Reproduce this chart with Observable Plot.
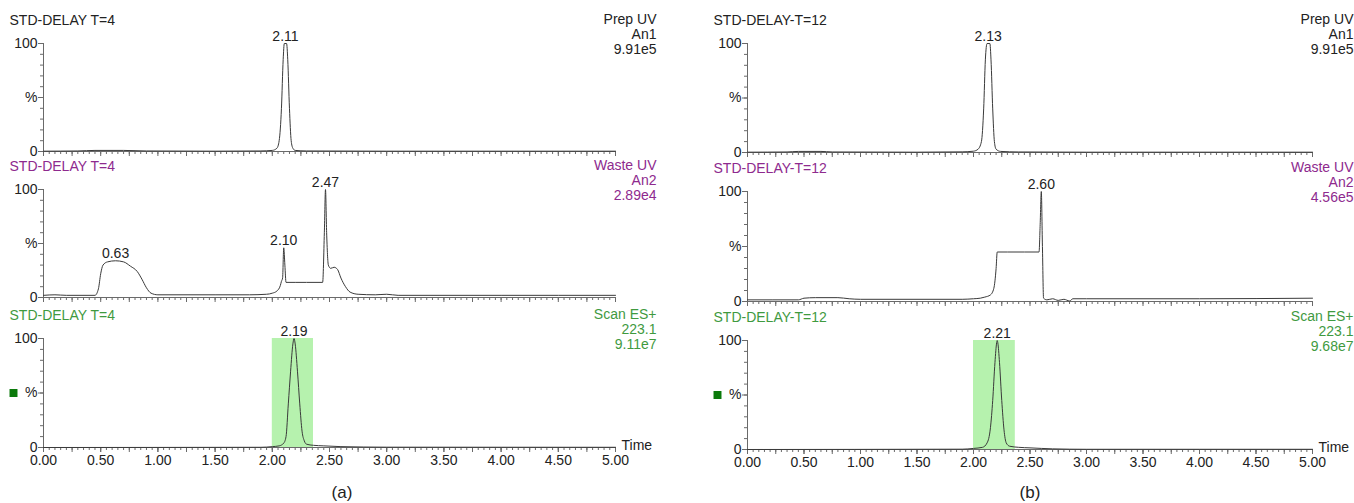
<!DOCTYPE html>
<html>
<head>
<meta charset="utf-8">
<script src="https://cdn.jsdelivr.net/npm/d3@7"></script>
<script src="https://cdn.jsdelivr.net/npm/@observablehq/plot@0.6"></script>
<style>
  html, body { margin: 0; padding: 0; background: #fff; }
  #wrap { position: relative; width: 1354px; height: 503px; overflow: hidden; font-family: "Liberation Sans", Arial, sans-serif; }
  #wrap > svg { position: absolute; }
  .cap { position: absolute; font-size: 17px; color: #222; transform: translate(-50%, -50%); }
</style>
</head>
<body>
<div id="wrap"></div>
<script>
// ---------- data (time in min, intensity in %) ----------
const timeDomain = [0, 5];
const pctDomain = [0, 100];

const prepUvA = [[0,0.3],[0.3,0.5],[0.45,1],[0.7,1],[0.9,0.5],[1.5,0.3],[1.9,0.5],[2.0,1],[2.04,3],[2.06,10],[2.08,40],[2.095,85],[2.105,100],[2.125,100],[2.135,85],[2.15,40],[2.165,10],[2.18,3],[2.2,1],[2.3,0.5],[3,0.3],[5,0.3]];
const wasteUvA = [[0,2],[0.1,2.5],[0.2,2],[0.45,2],[0.48,8],[0.5,22],[0.52,30],[0.56,33],[0.63,34],[0.7,33],[0.76,29],[0.82,24],[0.86,17],[0.9,9],[0.94,4],[1.0,2.5],[1.5,2.5],[1.8,2.5],[1.95,3],[2.0,4],[2.04,6],[2.07,11],[2.08,15],[2.09,18],[2.1,46],[2.11,30],[2.12,14],[2.2,14],[2.3,14],[2.44,14],[2.455,60],[2.465,100],[2.475,60],[2.49,30],[2.51,27],[2.54,28],[2.57,26],[2.6,18],[2.64,10],[2.68,5],[2.75,3],[2.9,2.5],[3.0,3],[3.1,2],[4,2],[5,2]];
const scanEsA = [[0,0],[1.9,0.2],[2.0,0.8],[2.06,1.5],[2.1,4],[2.12,10],[2.14,40],[2.16,70],[2.18,95],[2.19,100],[2.2,95],[2.22,70],[2.24,40],[2.26,15],[2.28,6],[2.3,3],[2.36,2],[2.45,1.5],[2.6,0.8],[3,0.3],[5,0.2]];

const prepUvB = [[0,0.3],[0.35,0.5],[0.45,1],[0.65,1],[0.75,0.5],[1.5,0.3],[1.9,0.6],[2.0,1.2],[2.04,3],[2.07,10],[2.09,40],[2.105,85],[2.12,100],[2.145,100],[2.155,85],[2.17,40],[2.185,10],[2.2,3],[2.24,1],[2.4,0.5],[3,0.3],[5,0.3]];
const wasteUvB = [[0,1.5],[0.45,1.5],[0.5,3],[0.6,3.5],[0.8,3.5],[0.9,2.5],[1.0,2],[1.5,2],[1.9,2],[2.0,2.5],[2.06,3],[2.1,4],[2.15,6],[2.18,12],[2.2,30],[2.21,45],[2.3,45],[2.45,45],[2.58,45],[2.59,70],[2.6,100],[2.61,50],[2.62,3],[2.65,1.5],[2.7,2.5],[2.75,1],[2.8,2],[2.85,0.5],[2.88,2.5],[3.0,2.5],[4,2.5],[5,3]];
const scanEsB = [[0,0],[1.9,0.3],[2.0,1],[2.08,2],[2.12,6],[2.15,20],[2.17,45],[2.19,80],[2.205,98],[2.21,100],[2.215,98],[2.23,80],[2.25,45],[2.27,18],[2.29,6],[2.32,3],[2.4,2],[2.5,1.5],[2.7,0.6],[3,0.2],[5,0.2]];

const peaksPrepA = [{t: 2.115, v: 100, label: "2.11"}];
const peaksWasteA = [{t: 0.63, v: 34, label: "0.63"}, {t: 2.10, v: 46, label: "2.10"}, {t: 2.465, v: 100, label: "2.47"}];
const peaksScanA = [{t: 2.19, v: 100, label: "2.19"}];
const peaksPrepB = [{t: 2.13, v: 100, label: "2.13"}];
const peaksWasteB = [{t: 2.60, v: 100, label: "2.60"}];
const peaksScanB = [{t: 2.21, v: 100, label: "2.21"}];

const shadeA = [{t1: 2.00, t2: 2.36, v1: 0, v2: 100}];
const shadeB = [{t1: 2.00, t2: 2.37, v1: 0, v2: 100}];

const titlesA = ["STD-DELAY T=4", "STD-DELAY T=4", "STD-DELAY T=4"];
const titlesB = ["STD-DELAY-T=12", "STD-DELAY-T=12", "STD-DELAY-T=12"];
const infoA = ["Prep UV\nAn1\n9.91e5", "Waste UV\nAn2\n2.89e4", "Scan ES+\n223.1\n9.11e7"];
const infoB = ["Prep UV\nAn1\n9.91e5", "Waste UV\nAn2\n4.56e5", "Scan ES+\n223.1\n9.68e7"];
const yTickLabels = {0: "0", 50: "%", 100: "100"};
const xLabelTicks = d3.range(0, 5.001, 0.5);
const captions = ["(a)", "(b)"];

// ---------- styling ----------
const colors = ["#222222", "#8e2a8e", "#3f9a3f"];
const axisColor = "#6a6a6a";
const lineColor = "#3a3a3a";
const shadeColor = "#b6f2ae";
const markerColor = "#0b7a0b";
const FONT = 14;

const wrap = document.getElementById("wrap");

function panel(o) {
  const marginLeft = o.axisX - o.L;
  const marginRight = o.L + o.W - o.axisEnd;
  const marginTop = o.y100 - o.T;
  const marginBottom = o.T + o.H - o.y0;
  const marks = [];
  if (o.shade) marks.push(Plot.rect(o.shade, {x1: "t1", x2: "t2", y1: "v1", y2: "v2", fill: shadeColor}));
  marks.push(
    Plot.ruleY([pctDomain[0]], {x1: timeDomain[0], x2: timeDomain[1], stroke: axisColor, strokeWidth: 1}),
    Plot.ruleX([timeDomain[0]], {y1: pctDomain[0], y2: pctDomain[1], stroke: axisColor, strokeWidth: 1}),
    Plot.axisY({ticks: d3.range(0, 101, 10), tickSize: 3, tickFormat: () => "", stroke: axisColor, label: null}),
    Plot.axisY({ticks: [0, 50, 100], tickSize: 5, tickPadding: 1, tickFormat: d => yTickLabels[d], stroke: axisColor, fill: "#222", fontSize: FONT, label: null}),
    Plot.axisX({ticks: d3.range(0, 5.001, 0.05), tickSize: 3, tickFormat: () => "", stroke: axisColor, label: null}),
    Plot.axisX({ticks: d3.range(0, 5.001, 0.25), tickSize: 5, tickFormat: () => "", stroke: axisColor, label: null})
  );
  if (o.xLabels) {
    marks.push(Plot.axisX({ticks: xLabelTicks, tickSize: 5, tickPadding: 3, tickFormat: d3.format(".2f"), stroke: axisColor, fill: "#222", fontSize: FONT, label: null}));
    marks.push(Plot.text(["Time"], {text: d => d, frameAnchor: "bottom-right", dx: 6, dy: -2, textAnchor: "start", lineAnchor: "middle", fill: "#222", fontSize: FONT}));
  }
  marks.push(Plot.line(o.data, {x: d => d[0], y: d => d[1], stroke: lineColor, strokeWidth: 1, curve: "monotone-x"}));
  marks.push(Plot.text(o.peaks, {x: "t", y: "v", text: "label", dy: -3, lineAnchor: "bottom", fill: "#222", fontSize: FONT}));
  marks.push(Plot.text([o.title], {text: d => d, frameAnchor: "top-left", dx: -34, dy: -23, textAnchor: "start", lineAnchor: "middle", fill: o.color, fontSize: FONT}));
  marks.push(Plot.text([o.info], {text: d => d, frameAnchor: "top-right", dx: 41, dy: -30, textAnchor: "end", lineAnchor: "top", lineHeight: 1.07, fill: o.color, fontSize: FONT}));
  if (o.marker) marks.push(Plot.dot([0], {frameAnchor: "left", dx: -30, symbol: "square", r: 4.5, fill: markerColor, stroke: null}));

  const svg = Plot.plot({
    width: o.W, height: o.H,
    marginLeft, marginRight, marginTop, marginBottom,
    x: {domain: timeDomain, label: null},
    y: {domain: pctDomain, label: null},
    style: {background: "transparent", overflow: "visible", fontFamily: "'Liberation Sans', Arial, sans-serif", fontSize: FONT + "px"},
    marks
  });
  svg.style.left = o.L + "px";
  svg.style.top = o.T + "px";
  wrap.appendChild(svg);
}

const left = {L: 0, W: 677, axisX: 43, axisEnd: 615};
const right = {L: 677, W: 677, axisX: 747, axisEnd: 1312};

panel({...left, T: 0, H: 160, y100: 43, y0: 151, data: prepUvA, peaks: peaksPrepA, title: titlesA[0], info: infoA[0], color: colors[0]});
panel({...left, T: 156, H: 150, y100: 189, y0: 297, data: wasteUvA, peaks: peaksWasteA, title: titlesA[1], info: infoA[1], color: colors[1]});
panel({...left, T: 303, H: 180, y100: 338, y0: 447, data: scanEsA, peaks: peaksScanA, shade: shadeA, title: titlesA[2], info: infoA[2], color: colors[2], xLabels: true, marker: true});

panel({...right, T: 0, H: 160, y100: 43, y0: 152, data: prepUvB, peaks: peaksPrepB, title: titlesB[0], info: infoB[0], color: colors[0]});
panel({...right, T: 156, H: 154, y100: 191, y0: 301, data: wasteUvB, peaks: peaksWasteB, title: titlesB[1], info: infoB[1], color: colors[1]});
panel({...right, T: 303, H: 180, y100: 340, y0: 449, data: scanEsB, peaks: peaksScanB, shade: shadeB, title: titlesB[2], info: infoB[2], color: colors[2], xLabels: true, marker: true});

// captions
[[captions[0], 342, 493], [captions[1], 1030, 493]].forEach(([t, x, y]) => {
  const d = document.createElement("div");
  d.className = "cap";
  d.textContent = t;
  d.style.left = x + "px";
  d.style.top = y + "px";
  wrap.appendChild(d);
});
</script>
</body>
</html>
